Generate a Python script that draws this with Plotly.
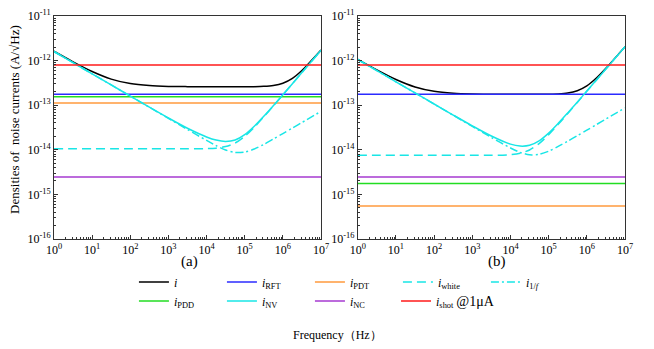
import plotly.graph_objects as go

# frequency grid (Hz) at half decades plus a few extra near the knees
freq = [1, 3.16, 10, 31.6, 100, 316, 1e3, 3.16e3, 1e4, 1.78e4, 3.16e4, 5.62e4,
        1e5, 1.78e5, 3.16e5, 5.62e5, 1e6, 1.78e6, 3.16e6, 1e7]
f_ends = [1, 1e7]

# panel (a)
total_a = [1.62e-12, 9.37e-13, 5.69e-13, 3.85e-13, 3.05e-13, 2.75e-13, 2.64e-13, 2.61e-13,
           2.60e-13, 2.60e-13, 2.60e-13, 2.60e-13, 2.60e-13, 2.61e-13, 2.65e-13, 2.77e-13,
           3.11e-13, 4.00e-13, 5.98e-13, 1.72e-12]
nv_a = [1.60e-12, 9.0e-13, 5.06e-13, 2.85e-13, 1.60e-13, 9.06e-14, 5.17e-14, 3.04e-14,
        1.94e-14, 1.65e-14, 1.54e-14, 1.66e-14, 2.19e-14, 3.37e-14, 5.63e-14, 9.77e-14,
        1.72e-13, 3.04e-13, 5.39e-13, 1.70e-12]
white_a = [1.05e-14, 1.05e-14, 1.05e-14, 1.05e-14, 1.05e-14, 1.05e-14, 1.05e-14, 1.05e-14,
           1.06e-14, 1.09e-14, 1.18e-14, 1.42e-14, 2.00e-14, 3.20e-14, 5.48e-14, 9.62e-14,
           1.70e-13, 3.03e-13, 5.38e-13, 1.70e-12]
flicker_a = [1.60e-12, 9.0e-13, 5.06e-13, 2.85e-13, 1.60e-13, 9.0e-14, 5.06e-14, 2.85e-14,
             1.62e-14, 1.24e-14, 9.9e-15, 8.7e-15, 8.9e-15, 1.04e-14, 1.32e-14, 1.74e-14,
             2.31e-14, 3.07e-14, 4.09e-14, 7.27e-14]
rft_a = [1.75e-13, 1.75e-13]
pdt_a = [1.12e-13, 1.12e-13]
pdd_a = [1.55e-13, 1.55e-13]
nc_a = [2.45e-15, 2.45e-15]
shot_a = [8.0e-13, 8.0e-13]

# panel (b)
total_b = [1.07e-12, 6.21e-13, 3.78e-13, 2.57e-13, 2.05e-13, 1.85e-13, 1.78e-13, 1.76e-13,
           1.755e-13, 1.754e-13, 1.755e-13, 1.757e-13, 1.766e-13, 1.79e-13, 1.87e-13, 2.11e-13,
           2.71e-13, 4.06e-13, 6.73e-13, 2.06e-12]
nv_b = [1.06e-12, 5.96e-13, 3.35e-13, 1.885e-13, 1.063e-13, 6.01e-14, 3.44e-14, 2.04e-14,
        1.34e-14, 1.21e-14, 1.26e-14, 1.59e-14, 2.37e-14, 3.91e-14, 6.71e-14, 1.17e-13,
        2.07e-13, 3.66e-13, 6.5e-13, 2.05e-12]
white_b = [7.5e-15, 7.5e-15, 7.5e-15, 7.5e-15, 7.5e-15, 7.5e-15, 7.5e-15, 7.53e-15,
           7.78e-15, 8.34e-15, 9.91e-15, 1.375e-14, 2.18e-14, 3.72e-14, 6.52e-14, 1.155e-13,
           2.05e-13, 3.645e-13, 6.48e-13, 2.05e-12]
flicker_b = [1.06e-12, 5.96e-13, 3.35e-13, 1.885e-13, 1.06e-13, 5.96e-14, 3.35e-14, 1.89e-14,
             1.10e-14, 8.75e-15, 7.71e-15, 7.91e-15, 9.32e-15, 1.19e-14, 1.56e-14, 2.07e-14,
             2.75e-14, 3.67e-14, 4.89e-14, 8.69e-14]
rft_b = [1.75e-13, 1.75e-13]
pdt_b = [5.5e-16, 5.5e-16]
pdd_b = [1.75e-15, 1.75e-15]
nc_b = [2.45e-15, 2.45e-15]
shot_b = [8.0e-13, 8.0e-13]

x_ticks = [1, 10, 100, 1e3, 1e4, 1e5, 1e6, 1e7]
x_labels = ["10<sup>%d</sup>" % i for i in range(0, 8)]
y_ticks = [1e-16, 1e-15, 1e-14, 1e-13, 1e-12, 1e-11]
y_labels = ["10<sup>-%d</sup>" % i for i in range(16, 10, -1)]

names = ["<i>i</i>", "<i>i</i><sub>RFT</sub>", "<i>i</i><sub>PDT</sub>", "<i>i</i><sub>white</sub>",
         "<i>i</i><sub>1/<i>f</i></sub>", "<i>i</i><sub>PDD</sub>", "<i>i</i><sub>NV</sub>",
         "<i>i</i><sub>NC</sub>", "<i>i</i><sub>shot</sub> <span style='font-size:14px'>@1μA</span>"]
colors = ["black", "#2b2bff", "#ff9a3c", "#19e6e6", "#19e6e6", "#22dd22", "#19e6e6", "#a63ad0", "#ff1a1a"]
dashes = ["solid", "solid", "solid", "9px,5px", "8px,3px,2px,3px", "solid", "solid", "solid", "solid"]
legends = ["legend"] * 5 + ["legend2"] * 3 + ["legend3"]

FONT = "Liberation Serif, Times New Roman, serif"

fig = go.Figure()

panels = [
    ("x", "y", True, [total_a, rft_a, pdt_a, white_a, flicker_a, pdd_a, nv_a, nc_a, shot_a]),
    ("x2", "y2", False, [total_b, rft_b, pdt_b, white_b, flicker_b, pdd_b, nv_b, nc_b, shot_b]),
]
for xa, ya, show, series in panels:
    for k, vals in enumerate(series):
        xs = freq if len(vals) == len(freq) else f_ends
        fig.add_trace(go.Scatter(
            x=xs, y=vals, mode="lines", name=names[k], xaxis=xa, yaxis=ya,
            line=dict(color=colors[k], width=1.5, dash=dashes[k], shape="spline", smoothing=0.8),
            showlegend=show, legend=legends[k]))

minor_x = [m * 10 ** e for e in range(0, 7) for m in range(2, 10)]
minor_y = [m * 10.0 ** e for e in range(-16, -11) for m in range(2, 10)]


def axis_style(tv, tt, mv):
    return dict(
        type="log", showgrid=False, zeroline=False, showline=True, linecolor="#333",
        linewidth=1, mirror=True, ticks="inside", ticklen=4, tickcolor="#333",
        tickmode="array", tickvals=tv, ticktext=tt, ticklabeloverflow="allow",
        minor=dict(ticks="inside", ticklen=2, tickcolor="#333", tickmode="array",
                   tickvals=mv, showgrid=False),
        tickfont=dict(family=FONT, size=12, color="black"),
    )


leg = dict(orientation="h", xanchor="left", yanchor="middle", entrywidth=43,
           font=dict(family=FONT, size=12), bgcolor="rgba(0,0,0,0)")

# a hair of slack so the 1e-11 tick is not dropped by float rounding
y_range = [-16.0005, -10.9995]

fig.update_layout(
    width=646, height=341,
    margin=dict(l=46, r=29, t=8, b=110, autoexpand=False),
    plot_bgcolor="white", paper_bgcolor="white",
    font=dict(family=FONT, size=12, color="black"),
    xaxis=dict(domain=[0, 0.4676], range=[0, 7], anchor="y", **axis_style(x_ticks, x_labels, minor_x)),
    yaxis=dict(range=y_range, anchor="x", **axis_style(y_ticks, y_labels, minor_y)),
    xaxis2=dict(domain=[0.532, 1], range=[0, 7], anchor="y2", **axis_style(x_ticks, x_labels, minor_x)),
    yaxis2=dict(range=y_range, anchor="x2", **axis_style(y_ticks, y_labels, minor_y)),
    legend=dict(x=0.14, y=-0.1928, **leg),
    legend2=dict(x=0.14, y=-0.278, **leg),
    legend3=dict(x=0.599, y=-0.278, orientation="h", xanchor="left", yanchor="middle",
                 font=dict(family=FONT, size=12), bgcolor="rgba(0,0,0,0)"),
    annotations=[
        dict(text="(a)", x=0.238, y=-0.1031, xref="paper", yref="paper", showarrow=False,
             xanchor="center", yanchor="middle", font=dict(family=FONT, size=15)),
        dict(text="(b)", x=0.775, y=-0.1031, xref="paper", yref="paper", showarrow=False,
             xanchor="center", yanchor="middle", font=dict(family=FONT, size=15)),
        dict(text="Frequency（Hz）", x=0.497, y=-0.4305, xref="paper", yref="paper",
             showarrow=False, xanchor="center", yanchor="middle", font=dict(family=FONT, size=12)),
        dict(text="Densities of \u00a0noise currents (A/√Hz)", x=-0.0683, y=0.534,
             xref="paper", yref="paper", textangle=-90, showarrow=False,
             xanchor="center", yanchor="middle", font=dict(family=FONT, size=13)),
    ],
)

fig.write_html("out.html")
